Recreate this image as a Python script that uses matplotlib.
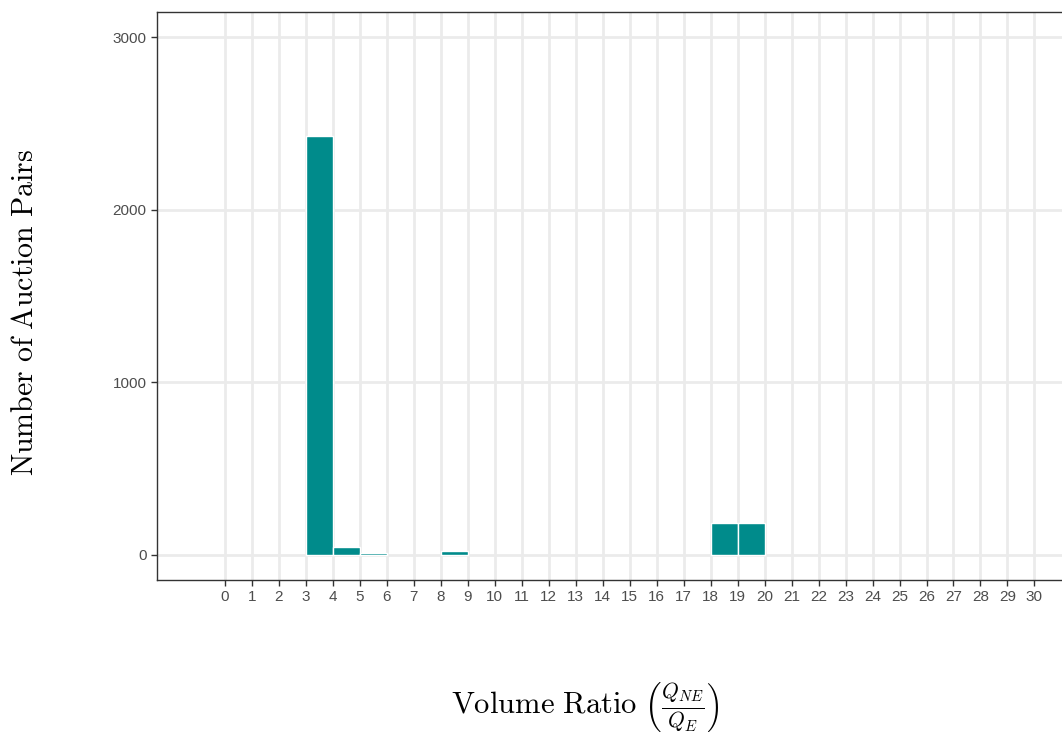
import numpy as np
import matplotlib.pyplot as plt

plt.rcParams['mathtext.fontset'] = 'cm'
plt.rcParams['font.family'] = ['Liberation Sans', 'DejaVu Sans']

# histogram bins (left edge) and counts
bin_left = [3, 4, 5, 8, 18, 19]
counts = [2425, 47, 9, 24, 188, 188]
xticks = list(range(0, 31))
yticks = [0, 1000, 2000, 3000]

fig = plt.figure(figsize=(10.62, 7.35), dpi=100)
ax = fig.add_axes([157 / 1062, 1 - 580 / 735, 1 - 157 / 1062 + 0.002, (580 - 12) / 735])

ax.bar(bin_left, counts, width=1, align='edge', color='#008B8B',
       edgecolor='white', linewidth=1, zorder=3)

ax.set_xlim(-2.52, 31.1)
ax.set_ylim(-145, 3145)
ax.set_xticks(xticks)
ax.set_yticks(yticks)
ax.grid(True, color='#EBEBEB', linewidth=2, zorder=0)
ax.set_axisbelow(True)

for s in ax.spines.values():
    s.set_color('#333333')
    s.set_linewidth(1)
ax.tick_params(colors='#333333', labelcolor='#4D4D4D', labelsize=11,
               length=4, width=1)

ax.set_ylabel(r'$\mathrm{Number\ of\ Auction\ Pairs}$', fontsize=21.5, va='center')
ax.yaxis.set_label_coords(25 / 1062, 1 - 312 / 735, transform=fig.transFigure)
ax.set_xlabel(r'$\mathrm{Volume\ Ratio}\ \left(\frac{Q_{NE}}{Q_E}\right)$',
              fontsize=22, va='center')
ax.xaxis.set_label_coords(585 / 1062, 1 - 708 / 735, transform=fig.transFigure)

fig.savefig('out.png', dpi=100)
